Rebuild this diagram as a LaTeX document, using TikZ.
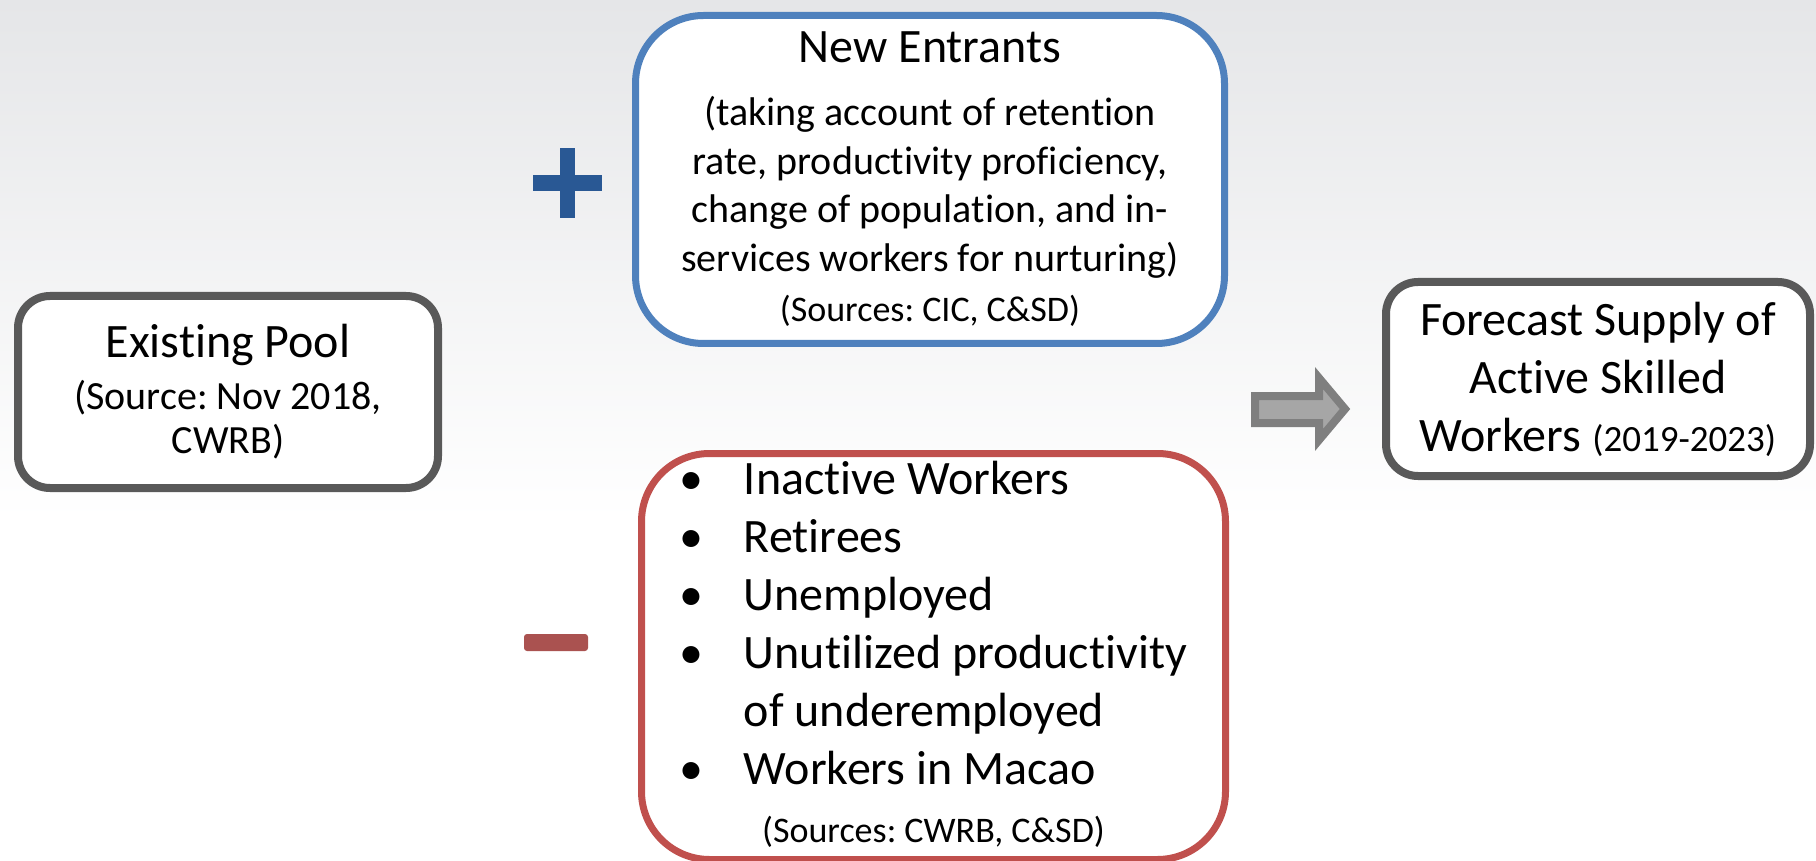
\documentclass[tikz,border=0pt]{standalone}
\usepackage{fontspec}
\setmainfont{Carlito}[Ligatures=NoCommon]
\usetikzlibrary{calc, shapes, arrows.meta}

\definecolor{bgtop}{RGB}{229,230,232}
\definecolor{boxgray}{RGB}{89,89,89}
\definecolor{boxblue}{RGB}{79,129,189}
\definecolor{boxred}{RGB}{192,80,77}
\definecolor{plusblue}{RGB}{41,88,148}
\definecolor{minusred}{RGB}{170,82,80}
\definecolor{arrowdark}{RGB}{127,127,127}
\definecolor{arrowlight}{RGB}{166,166,166}

\begin{document}
\frenchspacing
\begin{tikzpicture}[x=0.5pt, y=-0.5pt,
        gb/.style={rectangle, draw=boxgray, line width=4pt, rounded corners=16pt, fill=white, align=center, inner sep=0pt},
        cb/.style={rectangle, line width=3.5pt, rounded corners=34pt, fill=white, align=center, inner sep=0pt},
        bl/.style={font=\fontsize{24}{29}\selectfont}]
            \useasboundingbox (0,0) rectangle (1816,861);
            \shade[top color=bgtop, bottom color=white] (0,0) rectangle (1816,520);
            \fill[white] (0,520) rectangle (1816,861);

            \draw (228,392) node[gb, minimum width=210pt, minimum height=96pt, font=\fontsize{20}{22}\selectfont](pool)
                {{\fontsize{24}{22}\selectfont Existing Pool}\\[4pt] (Source: Nov 2018,\\ CWRB)};
            \draw (930,179.5) node[cb, draw=boxblue, minimum width=294.5pt, minimum height=164pt, font=\fontsize{20}{24.3}\selectfont](entry)
                {{\fontsize{24}{24.3}\selectfont New Entrants}\\[7pt] (taking account of retention\\ rate, productivity proficiency,\\
                 change of population, and in-\\ services workers for nurturing)\\[1pt] {\fontsize{18}{24.3}\selectfont (Sources: CIC, C\&SD)}};
            \draw (933.5,656.5) node[cb, draw=boxred, minimum width=292pt, minimum height=201pt, bl](loss)
                {\begin{tabular}{@{}l@{}}
                 \makebox[32pt][l]{\textbullet}Inactive Workers\\
                 \makebox[32pt][l]{\textbullet}Retirees\\
                 \makebox[32pt][l]{\textbullet}Unemployed\\
                 \makebox[32pt][l]{\textbullet}Unutilized productivity\\
                 \hspace*{32pt}of underemployed\\
                 \makebox[32pt][l]{\textbullet}Workers in Macao\\
                 \multicolumn{1}{c}{\fontsize{18}{29}\selectfont (Sources: CWRB, C\&SD)}
                 \end{tabular}};
            \draw (1598,379) node[gb, minimum width=212pt, minimum height=97pt, bl](supply)
                {Forecast Supply of\\ Active Skilled\\ Workers {\fontsize{18.5}{29}\selectfont (2019-2023)}};

            \begin{scope}[line width=0pt]
                \fill[plusblue] (533,175) rectangle (602,191);
                \fill[plusblue] (560,148) rectangle (575,218);
                \fill[minusred, rounded corners=1.5pt] (524,634) rectangle (588,651);
            \end{scope}

            \draw[draw=arrowdark, fill=arrowlight, line width=4pt] (1255,396) -- (1319,396) -- (1319,378) -- (1345,409)
                -- (1319,440) -- (1319,423) -- (1255,423) -- cycle;
        \end{tikzpicture}
\end{document}
